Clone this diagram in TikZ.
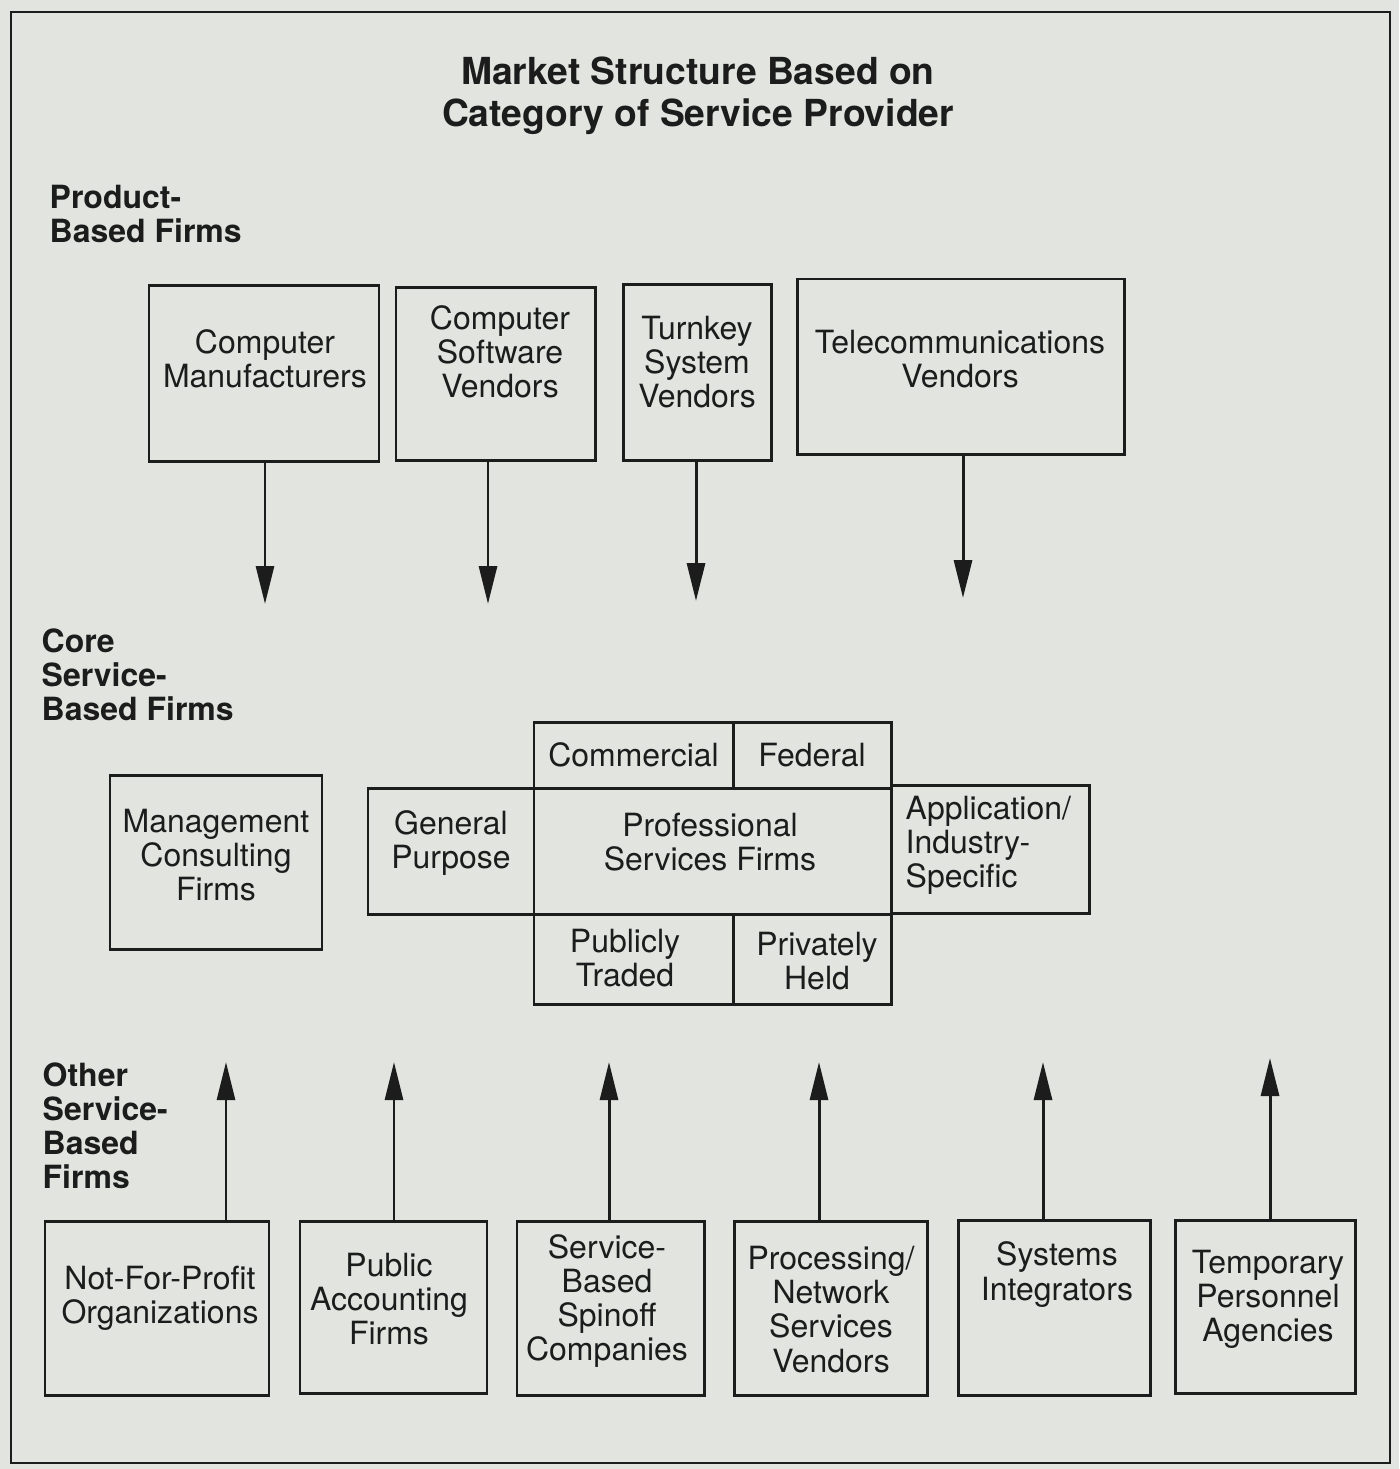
\documentclass[tikz,border=0pt]{standalone}
\usepackage{fontspec}
\setmainfont{TeX Gyre Heros}
\usetikzlibrary{arrows.meta}

\definecolor{paper}{HTML}{E1E4DF}
\definecolor{ink}{HTML}{1C1C1C}

\begin{document}
\begin{tikzpicture}[
	box/.style={draw=ink, line width=0.85pt, inner sep=0pt},
	txt/.style={text=ink, align=center, inner sep=0pt, font=\fontsize{9.1}{9.7}\selectfont},
	head/.style={text=ink, align=left, inner sep=0pt, font=\fontsize{9.1}{9.7}\selectfont\bfseries},
	arr/.style={draw=ink, line width=0.85pt, -{Triangle[length=0.38cm,width=0.18cm]}}
	]

	\fill[paper] (0,0) rectangle (13.99,-14.69);
	\draw[ink, line width=0.8pt] (0.11,-0.12) rectangle (13.90,-14.63);

	\node[text=ink, align=center, inner sep=0pt, font=\fontsize{10.6}{11.9}\selectfont\bfseries] (title) at (6.98,-0.96)
		{Market Structure Based on\\Category of Service Provider};

	% product-based firms
	\node[head, anchor=west] (prod) at (0.49,-2.14) {Product-\\Based Firms};

	\node[box, minimum width=2.30cm, minimum height=1.76cm] (cm) at (2.64,-3.73) {};
	\node[txt] (cm-t) at (2.65,-3.59) {Computer\\Manufacturers};
	\node[box, minimum width=1.99cm, minimum height=1.73cm] (csv) at (4.955,-3.735) {};
	\node[txt] (csv-t) at (5.00,-3.52) {Computer\\Software\\Vendors};
	\node[box, minimum width=1.48cm, minimum height=1.76cm] (tsv) at (6.97,-3.72) {};
	\node[txt] (tsv-t) at (6.97,-3.62) {Turnkey\\System\\Vendors};
	\node[box, minimum width=3.27cm, minimum height=1.75cm] (tv) at (9.605,-3.665) {};
	\node[txt] (tv-t) at (9.60,-3.59) {Telecommunications\\Vendors};

	\coordinate (cm-a) at (2.65,-6.04);
	\coordinate (csv-a) at (4.88,-6.04);
	\coordinate (tsv-a) at (6.96,-6.01);
	\coordinate (tv-a) at (9.63,-5.98);

	\draw[arr] (cm.south -| cm-a) -- (cm-a);
	\draw[arr] (csv.south -| csv-a) -- (csv-a);
	\draw[arr] (tsv.south -| tsv-a) -- (tsv-a);
	\draw[arr] (tv.south -| tv-a) -- (tv-a);

	% core service-based firms
	\node[head, anchor=west] (core) at (0.41,-6.75) {Core\\Service-\\Based Firms};

	\node[box, minimum width=2.12cm, minimum height=1.74cm] (mcf) at (2.16,-8.62) {};
	\node[txt] (mcf-t) at (2.16,-8.55) {Management\\Consulting\\Firms};

	\node[box, minimum width=3.57cm, minimum height=1.26cm] (pro) at (7.125,-8.51) {};
	\node[txt] (pro-t) at (7.10,-8.42) {Professional\\Services Firms};
	\node[box, minimum width=1.66cm, minimum height=1.26cm] (gen) at (4.51,-8.51) {};
	\node[txt] (gen-t) at (4.51,-8.43) {General\\Purpose};
	\node[box, txt, minimum width=1.99cm, minimum height=0.66cm] (com) at (6.335,-7.55) {Commercial};
	\node[box, txt, minimum width=1.58cm, minimum height=0.66cm] (fed) at (8.12,-7.55) {Federal};
	\node[box, minimum width=1.99cm, minimum height=0.90cm] (pub) at (6.335,-9.59) {};
	\node[txt] (pub-t) at (6.25,-9.58) {Publicly\\Traded};
	\node[box, minimum width=1.58cm, minimum height=0.90cm] (priv) at (8.12,-9.59) {};
	\node[txt] (priv-t) at (8.17,-9.61) {Privately\\Held};
	\node[box, minimum width=1.98cm, minimum height=1.28cm] (app) at (9.90,-8.49) {};
	\node[txt, align=left, anchor=west] (app-t) at (9.05,-8.45) {Application/\\Industry-\\Specific};

	% other service-based firms
	\node[head, anchor=west] (other) at (0.42,-11.26) {Other\\Service-\\Based\\Firms};

	\node[box, minimum width=2.24cm, minimum height=1.74cm] (nfp) at (1.57,-13.08) {};
	\node[txt] (nfp-t) at (1.60,-12.98) {Not-For-Profit\\Organizations};
	\node[box, minimum width=1.87cm, minimum height=1.72cm] (paf) at (3.935,-13.07) {};
	\node[txt] (paf-t) at (3.89,-12.99) {Public\\Accounting\\Firms};
	\node[box, minimum width=1.87cm, minimum height=1.74cm] (sbs) at (6.105,-13.08) {};
	\node[txt] (sbs-t) at (6.07,-13.01) {Service-\\Based\\Spinoff\\Companies};
	\node[box, minimum width=1.93cm, minimum height=1.74cm] (pns) at (8.305,-13.08) {};
	\node[txt] (pns-t) at (8.31,-13.095) {Processing/\\Network\\Services\\Vendors};
	\node[box, minimum width=1.92cm, minimum height=1.75cm] (si) at (10.54,-13.075) {};
	\node[txt] (si-t) at (10.57,-12.745) {Systems\\Integrators};
	\node[box, minimum width=1.80cm, minimum height=1.73cm] (tpa) at (12.65,-13.065) {};
	\node[txt] (tpa-t) at (12.68,-12.99) {Temporary\\Personnel\\Agencies};

	\coordinate (nfp-a) at (2.26,-10.62);
	\coordinate (paf-a) at (3.94,-10.62);
	\coordinate (sbs-a) at (6.09,-10.62);
	\coordinate (pns-a) at (8.19,-10.62);
	\coordinate (si-a) at (10.43,-10.62);
	\coordinate (tpa-a) at (12.70,-10.58);

	\draw[arr] (nfp.north -| nfp-a) -- (nfp-a);
	\draw[arr] (paf.north -| paf-a) -- (paf-a);
	\draw[arr] (sbs.north -| sbs-a) -- (sbs-a);
	\draw[arr] (pns.north -| pns-a) -- (pns-a);
	\draw[arr] (si.north -| si-a) -- (si-a);
	\draw[arr] (tpa.north -| tpa-a) -- (tpa-a);

\end{tikzpicture}
\end{document}
